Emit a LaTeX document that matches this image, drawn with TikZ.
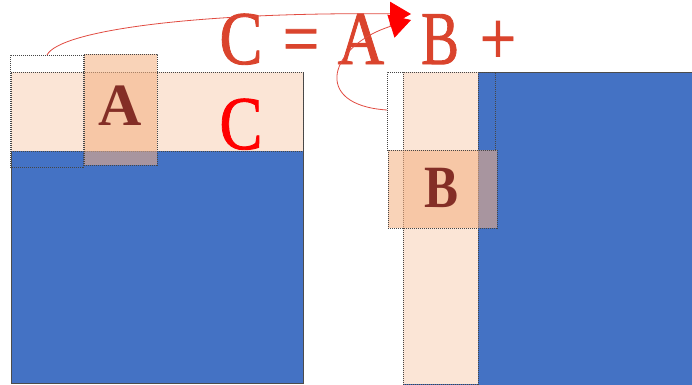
\documentclass[tikz,border=0pt]{standalone}
\usepackage{fontspec}
\setmainfont{Liberation Serif}
\newfontfamily\eqfont[FakeBold=1.2]{Liberation Serif}
\usetikzlibrary{arrows.meta}
\definecolor{mblue}{RGB}{68,114,196}
\definecolor{mpeach}{RGB}{251,229,214}
\definecolor{morange}{RGB}{244,177,131}
\definecolor{eqred}{RGB}{218,68,45}
\definecolor{lblred}{RGB}{132,46,38}
\definecolor{dashgray}{RGB}{70,70,70}
\definecolor{linkred}{RGB}{225,75,65}
\tikzset{
  box/.style={rectangle, inner sep=0pt, outer sep=0pt, anchor=north west},
  bluebox/.style={box, fill=mblue, draw=black!70, line width=0.7pt},
  peachbox/.style={box, fill=mpeach, draw=dashgray, line width=0.6pt, dash pattern=on 1.2pt off 0.8pt},
  ghostbox/.style={box, draw=dashgray, line width=0.6pt, dash pattern=on 1.2pt off 0.8pt},
  tilebox/.style={box, fill=morange, fill opacity=0.57, draw=dashgray, line width=0.6pt, dash pattern=on 1.2pt off 0.8pt},
  eqsym/.style={anchor=base, inner sep=0pt, text=eqred, font=\eqfont\fontsize{76}{80}\selectfont},
  tilelbl/.style={anchor=base, inner sep=0pt, text=lblred, font=\fontsize{60}{64}\selectfont\bfseries},
  link/.style={draw=linkred, line width=0.8pt, -{Triangle[length=21pt,width=24pt,fill=red,color=red]}}
}
\begin{document}
\begin{tikzpicture}[x=1pt,y=-1pt]
\useasboundingbox (0,0) rectangle (692,384);
% left matrix C
\node[bluebox, minimum width=292pt, minimum height=311pt] (Lblue) at (11,72) {};
\node[peachbox, minimum width=292pt, minimum height=79pt] (Cband) at (11,72) {};
\node[ghostbox, minimum width=73pt, minimum height=112pt] (Aprev) at (10,55) {};
\node[tilebox, minimum width=73pt, minimum height=111pt] (Atile) at (84,54) {};
\node[tilelbl] (Alab) at (120,125) {A};
\node[anchor=base, inner sep=0pt, text=red, font=\eqfont\fontsize{76}{80}\selectfont] (Clab) at (241,149) {\scalebox{0.85}[1]{C}};
% right matrix
\node[bluebox, minimum width=292pt, minimum height=313pt] (Rblue) at (403,72) {};
\node[peachbox, minimum width=75pt, minimum height=312pt] (Bcol) at (403,72) {};
\node[ghostbox, minimum width=108pt, minimum height=78pt] (Bprev) at (387,72) {};
\node[tilebox, minimum width=109pt, minimum height=78pt] (Btile) at (388,150) {};
\node[tilelbl] (Blab) at (442,207) {\scalebox{0.85}[1]{B}};
% equation
\node[eqsym] (eqC) at (241,64) {\scalebox{0.85}[1]{C}};
\node[eqsym] (eqEq) at (301,64) {\scalebox{0.85}[1]{=}};
\node[eqsym] (eqA) at (361,64) {\scalebox{0.85}[1]{A}};
\node[eqsym] (eqB) at (440,64) {\scalebox{0.75}[1]{B}};
\node[eqsym] (eqPlus) at (498,64) {\scalebox{0.85}[1]{+}};
% connectors
\coordinate (tip1) at (411,14);
\coordinate (tip2) at (411,20);
\draw[link] (Aprev.north west) ++(37,0) coordinate (s1) .. controls (60,30) and (200,12) .. (tip1);
\draw[link] (Bprev.west) ++(0,-1) coordinate (s2) .. controls (310,105) and (330,45) .. (tip2);
\end{tikzpicture}
\end{document}
